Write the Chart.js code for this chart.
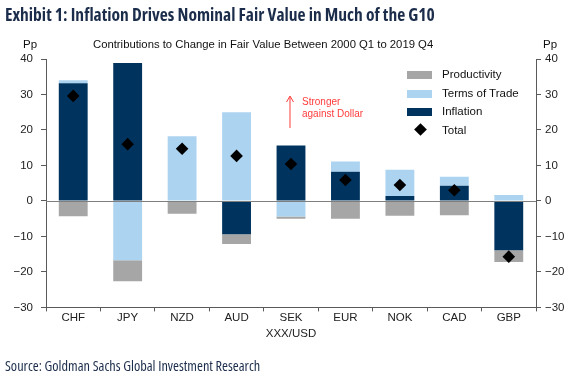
<!DOCTYPE html>
<html>
<head>
<meta charset="utf-8">
<script src="https://cdn.jsdelivr.net/npm/chart.js@4"></script>
<style>
  body { margin: 0; background: #fff; }
  #wrap { position: relative; width: 575px; height: 376px; overflow: hidden; font-family: "Liberation Sans", Arial, sans-serif; }
  #chart { position: absolute; left: 0; top: 0; }
  .title { position: absolute; left: 5px; top: 2px; font-family: "Open Sans", sans-serif; font-stretch: 75%; font-weight: bold; font-size: 17.5px; color: #1b2d4b; white-space: nowrap; }
  .sub { position: absolute; top: 38px; left: 93px; font-size: 11.3px; color: #111; white-space: nowrap; }
  .pp { position: absolute; top: 38px; font-size: 11.5px; color: #111; }
  .source { position: absolute; left: 5px; top: 356px; font-family: "Open Sans", sans-serif; font-stretch: 75%; font-size: 14.3px; color: #1b2d4b; white-space: nowrap; }
  .legend { position: absolute; left: 407px; top: 65px; font-size: 11.5px; color: #111; }
  .legend div { height: 18.5px; line-height: 18.5px; position: relative; padding-left: 35px; }
  .legend span.sw { position: absolute; left: 0; top: 6px; width: 25px; height: 8px; }
  .legend span.dm { position: absolute; left: 9px; top: 4px; width: 9px; height: 9px; background: #000; transform: rotate(45deg); }
  .note { position: absolute; left: 302px; top: 96px; font-size: 10px; line-height: 12px; color: #ff3b3b; }
</style>
</head>
<body>
<div id="wrap">
  <canvas id="chart" width="575" height="376"></canvas>
  <div class="title">Exhibit 1: Inflation Drives Nominal Fair Value in Much of the G10</div>
  <div class="sub">Contributions to Change in Fair Value Between 2000 Q1 to 2019 Q4</div>
  <div class="pp" style="left:23px">Pp</div>
  <div class="pp" style="left:543px">Pp</div>
  <svg style="position:absolute;left:284px;top:94px" width="12" height="36">
    <line x1="6" y1="3" x2="6" y2="34" stroke="#ff3b3b" stroke-width="1"/>
    <polyline points="2.5,8 6,2 9.5,8" fill="none" stroke="#ff3b3b" stroke-width="1"/>
  </svg>
  <div class="note">Stronger<br>against Dollar</div>
  <div class="legend">
    <div><span class="sw" style="background:#a6a6a6"></span>Productivity</div>
    <div><span class="sw" style="background:#acd3f0"></span>Terms of Trade</div>
    <div><span class="sw" style="background:#00345f"></span>Inflation</div>
    <div><span class="dm"></span>Total</div>
  </div>
  <div class="source">Source: Goldman Sachs Global Investment Research</div>
</div>
<script>
const categories = ['CHF', 'JPY', 'NZD', 'AUD', 'SEK', 'EUR', 'NOK', 'CAD', 'GBP'];
const inflation = [33.2, 38.9, 0, -9.4, 15.6, 8.2, 1.4, 4.3, -13.9];
const termsOfTrade = [0.8, -16.7, 18.2, 25.0, -4.4, 2.9, 7.4, 2.5, 1.7];
const productivity = [-4.3, -5.9, -3.6, -2.7, -0.6, -5.0, -4.2, -4.0, -3.3];
const total = [29.6, 16.0, 14.7, 12.7, 10.4, 5.9, 4.5, 3.0, -15.7];
const yTicks = [-30, -20, -10, 0, 10, 20, 30, 40];

const axisColor = '#5a5a5a';
const tickFont = { family: '"Liberation Sans", Arial, sans-serif', size: 11.5 };
const minus = v => String(v).replace('-', '\u2212');

// zero line over the bars
const zeroLine = {
    id: 'zeroLine',
    afterDatasetsDraw(chart) {
        const { ctx, chartArea, scales } = chart;
        const y = Math.round(scales.y.getPixelForValue(0)) + 0.5;
        ctx.save();
        ctx.strokeStyle = '#7f7f7f';
        ctx.lineWidth = 1;
        ctx.beginPath();
        ctx.moveTo(chartArea.left, y);
        ctx.lineTo(chartArea.right, y);
        ctx.stroke();
        ctx.restore();
    }
};

const yAxis = (pos, width, pad) => ({
    position: pos,
    stacked: pos === 'left',
    min: yTicks[0],
    max: yTicks[yTicks.length - 1],
    afterBuildTicks: s => { s.ticks = yTicks.map(v => ({ value: v })); },
    afterFit: s => { s.width = width; },
    border: { color: axisColor },
    grid: { drawOnChartArea: false, tickLength: 5, color: axisColor },
    ticks: { color: '#222', font: tickFont, padding: pad, callback: v => minus(v) }
});

new Chart(document.getElementById('chart'), {
    type: 'bar',
    data: {
        labels: categories,
        datasets: [
            {
                type: 'line',
                label: 'Total',
                data: total,
                yAxisID: 'y2',
                showLine: false,
                pointStyle: 'rectRot',
                pointRadius: 6.3,
                backgroundColor: '#000',
                borderColor: '#000',
                borderWidth: 0
            },
            { label: 'Inflation', data: inflation, backgroundColor: '#00345f', stack: 's' },
            { label: 'Terms of Trade', data: termsOfTrade, backgroundColor: '#acd3f0', stack: 's' },
            { label: 'Productivity', data: productivity, backgroundColor: '#a6a6a6', stack: 's' }
        ]
    },
    options: {
        responsive: false,
        animation: false,
        barPercentage: 0.53,
        categoryPercentage: 1,
        layout: { padding: { top: 59, bottom: 35, left: 0, right: 0 } },
        plugins: { legend: { display: false }, tooltip: { enabled: false } },
        scales: {
            x: {
                stacked: true,
                border: { color: axisColor },
                grid: { drawOnChartArea: false, tickLength: 4, color: axisColor, offset: true },
                ticks: { color: '#222', font: tickFont, padding: 0 },
                title: { display: true, text: 'XXX/USD', color: '#222', font: tickFont, padding: { top: 2, bottom: 0 } }
            },
            y: yAxis('left', 46, 8),
            y2: yAxis('right', 39, 4)
        }
    },
    plugins: [zeroLine]
});
</script>
</body>
</html>
